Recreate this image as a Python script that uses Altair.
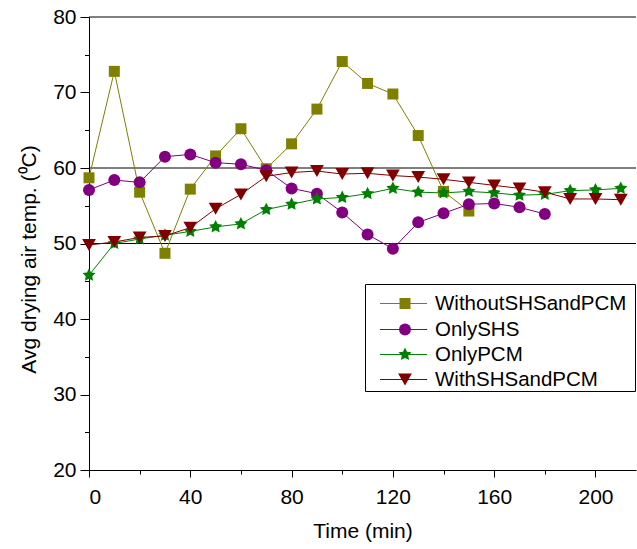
import math

import altair as alt
import pandas as pd

# Drying time (min), one reading every 10 minutes
time_min = list(range(0, 220, 10))

# Average drying-air temperature (deg C) for each configuration
without_shs_pcm = [58.7, 72.8, 56.8, 48.7, 57.2, 61.6, 65.2, 59.9, 63.2, 67.8,
                   74.1, 71.2, 69.8, 64.3, 56.9, 54.3]
only_shs = [57.1, 58.4, 58.1, 61.5, 61.8, 60.7, 60.5, 59.7, 57.3, 56.6,
            54.1, 51.2, 49.3, 52.8, 54.0, 55.2, 55.3, 54.8, 53.9]
only_pcm = [45.8, 50.0, 50.6, 51.1, 51.6, 52.2, 52.6, 54.5, 55.2, 55.9,
            56.1, 56.6, 57.3, 56.8, 56.7, 56.9, 56.7, 56.4, 56.5, 57.0,
            57.1, 57.3]
with_shs_pcm = [49.8, 50.2, 50.8, 51.0, 52.1, 54.6, 56.5, 58.9, 59.4, 59.6,
                59.2, 59.3, 59.0, 58.8, 58.5, 58.1, 57.7, 57.3, 56.8, 55.9,
                55.9, 55.8]

series_names = ["WithoutSHSandPCM", "OnlySHS", "OnlyPCM", "WithSHSandPCM"]
series_colors = ["#808000", "#800080", "#008000", "#800000"]
series_sizes = [121, 144, 190, 190]

# Axis ticks: labelled majors and unlabelled minors
x_major = [0, 40, 80, 120, 160, 200]
x_minor = [20, 60, 100, 140, 180]
y_major = [20, 30, 40, 50, 60, 70, 80]
y_minor = [25, 35, 45, 55, 65, 75]

# Reference levels drawn across the plot
ref_levels = [50, 60, 80]

rows = []
for name, values in zip(series_names,
                        [without_shs_pcm, only_shs, only_pcm, with_shs_pcm]):
    for t, v in zip(time_min, values):
        rows.append({"series": name, "time": t, "temp": v})
df = pd.DataFrame(rows)
df_ref = pd.DataFrame({"level": ref_levels})
df_keys = pd.DataFrame({"series": series_names})

FONT = "Liberation Sans"


def star_path(ro=1.0, ri=0.5):
    """Five-pointed star as an SVG path in symbol units."""
    pts = []
    for k in range(10):
        r = ro if k % 2 == 0 else ri
        a = -math.pi / 2 + k * math.pi / 5
        pts.append((r * math.cos(a), r * math.sin(a)))
    return "M" + "L".join(f"{x:.3f},{y:.3f}" for x, y in pts) + "Z"


series_shapes = ["square", "circle", star_path(), "triangle-down"]

x_scale = alt.Scale(domain=[0, 216], nice=False, zero=False)
y_scale = alt.Scale(domain=[20, 80], nice=False, zero=False)
color_scale = alt.Scale(domain=series_names, range=series_colors)

x_axis = alt.Axis(orient="bottom", values=x_major, tickSize=7,
                  labelPadding=9, titlePadding=13, grid=False)
y_axis = alt.Axis(orient="left", values=y_major, tickSize=9,
                  labelPadding=4, titlePadding=13, titleY=242, grid=False)
x_minor_axis = alt.Axis(orient="bottom", values=x_minor, tickSize=4,
                        labels=False, domain=False, grid=False)
y_minor_axis = alt.Axis(orient="left", values=y_minor, tickSize=4.5,
                        labels=False, domain=False, grid=False)

ref_rules = alt.Chart(df_ref).mark_rule(color="black", strokeWidth=1).encode(
    y=alt.Y("level:Q", scale=y_scale, axis=None)
)

lines = alt.Chart(df).mark_line(strokeWidth=1).encode(
    x=alt.X("time:Q", scale=x_scale, axis=x_axis, title="Time (min)"),
    y=alt.Y("temp:Q", scale=y_scale, axis=y_axis,
            title="Avg drying air temp. (\u2070C)"),
    color=alt.Color("series:N", scale=color_scale, legend=None),
)

minor_ticks = alt.Chart(df).mark_point(opacity=0).encode(
    x=alt.X("time:Q", scale=x_scale, axis=x_minor_axis, title=None),
    y=alt.Y("temp:Q", scale=y_scale, axis=y_minor_axis, title=None),
)

# One marker layer per series, drawn in series order
point_layers = []
for name, colour, shape, size in zip(series_names, series_colors,
                                     series_shapes, series_sizes):
    point_layers.append(
        alt.Chart(df)
        .transform_filter(alt.datum.series == name)
        .mark_point(filled=True, opacity=1, shape=shape, size=size,
                    color=colour)
        .encode(
            x=alt.X("time:Q", scale=x_scale, axis=None),
            y=alt.Y("temp:Q", scale=y_scale, axis=None),
        )
    )

# ---- key box (pixel positions inside the plot area) ----
KEY_LEFT, KEY_RIGHT = 276.5, 546.5
KEY_TOP, KEY_BOTTOM = 267.5, 374.5
KEY_ROWS = [286.5, 312.5, 337.5, 362.5]
LINE_X0, LINE_X1, MARK_X, TEXT_X = 291, 338, 316, 346

key_layers = [
    alt.Chart(df_keys)
    .transform_aggregate(n="count()")
    .mark_rect(fill="white", stroke="black", strokeWidth=1)
    .encode(x=alt.value(KEY_LEFT), x2=alt.value(KEY_RIGHT),
            y=alt.value(KEY_TOP), y2=alt.value(KEY_BOTTOM))
]
for row_y, name, colour, shape, size in zip(
        KEY_ROWS, series_names, series_colors, series_shapes, series_sizes):
    entry = alt.Chart(df_keys).transform_filter(alt.datum.series == name)
    key_layers.append(
        entry.mark_rule(color=colour, strokeWidth=1).encode(
            x=alt.value(LINE_X0), x2=alt.value(LINE_X1), y=alt.value(row_y))
    )
    key_layers.append(
        entry.mark_point(filled=True, opacity=1, shape=shape, size=size,
                         color=colour).encode(
            x=alt.value(MARK_X), y=alt.value(row_y))
    )
    key_layers.append(
        entry.mark_text(align="left", baseline="middle", font=FONT,
                        fontSize=20.5, color="black").encode(
            x=alt.value(TEXT_X), y=alt.value(row_y), text="series:N")
    )

chart = (
    alt.layer(ref_rules, lines, minor_ticks, *point_layers, *key_layers)
    .resolve_axis(x="independent", y="independent")
    .properties(
        width=547,
        height=453,
        padding={"left": 89, "top": 17, "right": 1, "bottom": 79},
        autosize=alt.AutoSizeParams(type="none"),
        background="white",
    )
    .configure_view(stroke=None)
    .configure_axis(
        labelFont=FONT,
        titleFont=FONT,
        labelFontSize=21,
        titleFontSize=21,
        titleFontWeight="normal",
        labelColor="black",
        titleColor="black",
        domainColor="black",
        tickColor="black",
        domainWidth=1,
        tickWidth=1,
    )
)

chart.save("out.html", embed_options={"renderer": "svg", "actions": False})
